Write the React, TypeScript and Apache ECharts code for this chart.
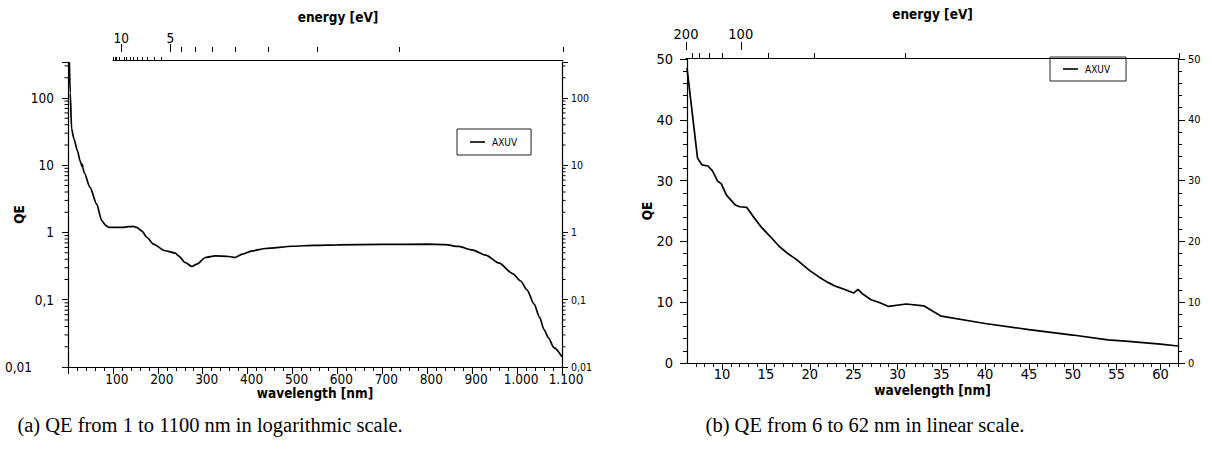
import React, { useEffect, useRef } from "react";
import * as echarts from "echarts";

// ---------- data ----------
const leftWavelength = [3, 5, 8, 13, 21, 27, 29, 31, 32, 33, 36, 49, 64, 75, 84, 91, 100, 120, 135, 145, 153, 164, 176, 190, 216, 239, 246, 261, 276, 287, 306, 328, 358, 372, 388, 410, 440, 500, 550, 600, 700, 800, 840, 870, 900, 930, 960, 990, 1008, 1022, 1038, 1050, 1060, 1070, 1082, 1100];
const leftQE = [340, 120, 35, 25, 16.4, 11.6, 10.6, 9.6, 10.4, 9.2, 7.8, 4.7, 2.64, 1.5, 1.28, 1.19, 1.19, 1.19, 1.22, 1.23, 1.19, 1.06, 0.843, 0.672, 0.535, 0.494, 0.45, 0.358, 0.312, 0.339, 0.425, 0.45, 0.44, 0.425, 0.477, 0.534, 0.578, 0.625, 0.645, 0.655, 0.665, 0.67, 0.66, 0.62, 0.55, 0.46, 0.35, 0.245, 0.19, 0.14, 0.086, 0.055, 0.036, 0.027, 0.0194, 0.0142];

const rightWavelength = [6, 7.2, 7.7, 8.4, 8.9, 9.5, 9.9, 10.5, 11.5, 12, 12.8, 13.5, 14.5, 15.5, 16.5, 17.5, 18.5, 20, 21, 22, 23, 24, 25, 25.5, 26, 27, 28, 29, 31, 33, 35, 40, 45, 50, 54, 56, 60, 62];
const rightQE = [48.5, 33.7, 32.6, 32.4, 31.6, 29.9, 29.5, 27.6, 26, 25.7, 25.6, 24.2, 22.3, 20.8, 19.2, 18, 17, 15.2, 14.2, 13.3, 12.6, 12.1, 11.5, 12.1, 11.4, 10.4, 9.9, 9.3, 9.7, 9.4, 7.7, 6.5, 5.5, 4.6, 3.8, 3.6, 3.1, 2.8];

// tick lists
const leftLogMinorTicks = [0.02, 0.03, 0.04, 0.05, 0.06, 0.07, 0.08, 0.09, 0.2, 0.3, 0.4, 0.5, 0.6, 0.7, 0.8, 0.9, 2, 3, 4, 5, 6, 7, 8, 9, 20, 30, 40, 50, 60, 70, 80, 90, 200, 300];
const leftEnergyMajor = [10, 5];
const leftEnergyMid = [4.5, 4, 3.5, 3, 2.5, 2, 1.5, 1];
const leftEnergyMinor = [12, 11.5, 11, 10.5, 9.5, 9, 8.5, 8, 7.5, 7, 6.5, 6, 5.5];
const rightEnergyMajor = [200, 100];
const rightEnergyMinor = [180, 160, 140, 120, 80, 60, 40, 20];
const rightWlMajor = [10, 15, 20, 25, 30, 35, 40, 45, 50, 55, 60];
const rightWlMinor = [7, 8, 9, 11, 12, 13, 14, 16, 17, 18, 19, 21, 22, 23, 24, 26, 27, 28, 29, 31, 32, 33, 34, 36, 37, 38, 39, 41, 42, 43, 44, 46, 47, 48, 49, 51, 52, 53, 54, 56, 57, 58, 59, 61, 62];

const HC = 1240; // eV*nm
const eToL = (e: number) => HC / e;

const FONT = "'DejaVu Sans Condensed', 'DejaVu Sans', sans-serif";
const BLACK = "#000";

function thousands(v: number) {
  if (v === 0) return "";
  const s = v >= 1000 ? Math.floor(v / 1000) + "." + String(v % 1000).padStart(3, "0") : String(v);
  return "{b|" + s + "}";
}
function logText(v: number) {
  const lg = Math.log10(v);
  if (Math.abs(lg - Math.round(lg)) > 1e-6) return "";
  return String(Number(v.toPrecision(3))).replace(".", ",");
}
function logLabelLeft(v: number) {
  const s = logText(v);
  if (!s) return "";
  return v < 0.05 ? "{s|" + s + "}" : s;
}

export default function App() {
  const ref = useRef<HTMLDivElement>(null);
  useEffect(() => {
    if (!ref.current) return;
    const chart = echarts.init(ref.current, undefined, { renderer: "svg" });
    const axisLine = { show: true, lineStyle: { color: BLACK, width: 1.2 } };
    const tickLine = { color: BLACK, width: 1 };
    const nameStyle = { fontFamily: FONT, fontWeight: "bold" as const, fontSize: 13.5, color: BLACK };
    const gridBase = { containLabel: false, outerBoundsMode: "none" };

    const option: any = {
      animation: false,
      textStyle: { fontFamily: FONT, color: BLACK },
      grid: [
        { ...gridBase, left: 68, top: 62, width: 494, height: 305 },
        { ...gridBase, left: 113, top: 52, width: 450, height: 8 },
        { ...gridBase, left: 687, top: 59, width: 491, height: 304 },
        { ...gridBase, left: 686, top: 50, width: 493, height: 8 },
      ],
      xAxis: [
        {
          gridIndex: 0, type: "value", position: "bottom", min: 0, max: 1100, interval: 100,
          axisLine, axisTick: { length: 7, lineStyle: tickLine },
          minorTick: { show: true, splitNumber: 5, length: 4, lineStyle: tickLine },
          axisLabel: {
            formatter: thousands, fontSize: 13.5, margin: 5, color: BLACK, fontFamily: FONT, lineHeight: 13,
            rich: { b: { fontSize: 13.5, fontFamily: FONT, color: BLACK, lineHeight: 13, padding: [0, 0, 0, 8] } },
          },
          splitLine: { show: false },
          name: "wavelength [nm]", nameLocation: "middle", nameGap: 19, nameMoveOverlap: false, nameTextStyle: nameStyle,
        },
        {
          gridIndex: 1, type: "value", position: "top", min: eToL(12), max: eToL(1),
          axisLine, axisTick: { length: 3, lineStyle: tickLine, customValues: leftEnergyMinor.map(eToL) },
          axisLabel: { show: false }, splitLine: { show: false },
        },
        {
          gridIndex: 1, type: "value", position: "top", min: eToL(12), max: eToL(1),
          axisLine: { show: false }, axisTick: { length: 5, lineStyle: tickLine, customValues: leftEnergyMid.map(eToL) },
          axisLabel: { show: false }, splitLine: { show: false },
        },
        {
          gridIndex: 1, type: "value", position: "top", min: eToL(12), max: eToL(1),
          axisLine: { show: false }, axisTick: { length: 8, lineStyle: tickLine, customValues: leftEnergyMajor.map(eToL) },
          axisLabel: {
            customValues: leftEnergyMajor.map(eToL), formatter: (v: number) => String(Math.round(HC / v)),
            fontSize: 13.5, margin: 7, color: BLACK, fontFamily: FONT,
          },
          splitLine: { show: false },
          name: "energy [eV]", nameLocation: "middle", nameGap: 28, nameMoveOverlap: false, nameTextStyle: nameStyle,
        },
        {
          gridIndex: 2, type: "value", position: "bottom", min: 6, max: 62,
          axisLine, axisTick: { length: 7, lineStyle: tickLine, customValues: rightWlMajor },
          axisLabel: { customValues: rightWlMajor, fontSize: 14.5, margin: 4, color: BLACK, fontFamily: FONT, lineHeight: 14 },
          splitLine: { show: false },
          name: "wavelength [nm]", nameLocation: "middle", nameGap: 20, nameMoveOverlap: false, nameTextStyle: nameStyle,
        },
        {
          gridIndex: 2, type: "value", position: "bottom", min: 6, max: 62,
          axisLine: { show: false }, axisTick: { length: 4, lineStyle: tickLine, customValues: rightWlMinor },
          axisLabel: { show: false }, splitLine: { show: false },
        },
        {
          gridIndex: 3, type: "value", position: "top", min: eToL(200), max: eToL(20),
          axisLine, axisTick: { length: 5, lineStyle: tickLine, customValues: rightEnergyMinor.map(eToL) },
          axisLabel: { show: false }, splitLine: { show: false },
        },
        {
          gridIndex: 3, type: "value", position: "top", min: eToL(200), max: eToL(20),
          axisLine: { show: false }, axisTick: { length: 8, lineStyle: tickLine, customValues: rightEnergyMajor.map(eToL) },
          axisLabel: {
            customValues: rightEnergyMajor.map(eToL), formatter: (v: number) => String(Math.round(HC / v)),
            fontSize: 14.5, margin: 9, color: BLACK, fontFamily: FONT,
          },
          splitLine: { show: false },
          name: "energy [eV]", nameLocation: "middle", nameGap: 29, nameMoveOverlap: false, nameTextStyle: nameStyle,
        },
      ],
      yAxis: [
        {
          gridIndex: 0, type: "log", logBase: 10, position: "left", min: 0.01, max: 343,
          axisLine, axisTick: { length: 6, lineStyle: tickLine },
          axisLabel: {
            formatter: logLabelLeft, fontSize: 13.5, margin: 14, color: BLACK, fontFamily: FONT,
            rich: { s: { fontSize: 13.5, fontFamily: FONT, color: BLACK, padding: [0, 22, 0, 0] } },
          },
          splitLine: { show: false },
          name: "QE", nameLocation: "middle", nameGap: 42, nameMoveOverlap: false, nameTextStyle: nameStyle,
        },
        {
          gridIndex: 0, type: "log", logBase: 10, position: "right", min: 0.01, max: 343,
          axisLine, axisTick: { length: 6, lineStyle: tickLine },
          axisLabel: { formatter: logText, fontSize: 10.5, margin: 9, color: BLACK, fontFamily: FONT, lineHeight: 10 },
          splitLine: { show: false },
        },
        { gridIndex: 1, type: "value", show: false, min: 0, max: 1 },
        {
          gridIndex: 2, type: "value", position: "left", min: 0, max: 50, interval: 10,
          axisLine, axisTick: { length: 7, lineStyle: tickLine },
          minorTick: { show: true, splitNumber: 5, length: 4, lineStyle: tickLine },
          axisLabel: { fontSize: 14.5, margin: 14, color: BLACK, fontFamily: FONT },
          splitLine: { show: false },
          name: "QE", nameLocation: "middle", nameGap: 33, nameMoveOverlap: false, nameTextStyle: nameStyle,
        },
        {
          gridIndex: 2, type: "value", position: "right", min: 0, max: 50, interval: 10,
          axisLine, axisTick: { length: 7, lineStyle: tickLine },
          minorTick: { show: true, splitNumber: 5, length: 4, lineStyle: tickLine },
          axisLabel: { fontSize: 11, margin: 10, color: BLACK, fontFamily: FONT },
          splitLine: { show: false },
        },
        { gridIndex: 3, type: "value", show: false, min: 0, max: 1 },
      ],
      legend: [
        {
          data: ["AXUV"], left: 457, top: 129, icon: "rect", itemWidth: 15, itemHeight: 1.6, itemGap: 0,
          padding: [7, 14, 7, 13], borderColor: "#222", borderWidth: 1, selectedMode: false,
          itemStyle: { color: BLACK }, textStyle: { fontSize: 10, fontFamily: FONT, color: BLACK, padding: [0, 0, 0, 2], lineHeight: 12 },
        },
        {
          data: ["AXUV"], left: 1050, top: 57, icon: "rect", itemWidth: 15, itemHeight: 1.6, itemGap: 0,
          padding: [6, 16, 6, 13], borderColor: "#222", borderWidth: 1, selectedMode: false,
          itemStyle: { color: BLACK }, textStyle: { fontSize: 10, fontFamily: FONT, color: BLACK, padding: [0, 0, 0, 2], lineHeight: 12 },
        },
      ],
      series: [
        {
          name: "AXUV", type: "line", xAxisIndex: 0, yAxisIndex: 0,
          data: leftWavelength.map((w, i) => [w, leftQE[i]]),
          symbol: "none", smooth: 0.25, smoothMonotone: "x",
          lineStyle: { color: BLACK, width: 1.7 }, itemStyle: { color: BLACK },
        },
        {
          type: "custom", xAxisIndex: 0, yAxisIndex: 0, silent: true,
          data: leftLogMinorTicks.map((v) => [0, v]),
          encode: { x: 0, y: 1 },
          renderItem: (_p: any, api: any) => {
            const v = api.value(1);
            const l = api.coord([0, v]);
            const r = api.coord([1100, v]);
            return {
              type: "group",
              children: [
                { type: "line", shape: { x1: l[0] - 3.5, y1: l[1], x2: l[0], y2: l[1] }, style: { stroke: BLACK, lineWidth: 1 } },
                { type: "line", shape: { x1: r[0], y1: r[1], x2: r[0] + 3.5, y2: r[1] }, style: { stroke: BLACK, lineWidth: 1 } },
              ],
            };
          },
        },
        {
          name: "AXUV", type: "line", xAxisIndex: 4, yAxisIndex: 3,
          data: rightWavelength.map((w, i) => [w, rightQE[i]]),
          symbol: "none",
          lineStyle: { color: BLACK, width: 1.7 }, itemStyle: { color: BLACK },
        },
      ],
      graphic: [
        {
          type: "text", x: 210, y: 425,
          style: {
            text: "(a) QE from 1 to 1100 nm in logarithmic scale.", font: "20.5px 'Liberation Serif', serif",
            fill: BLACK, textAlign: "center", textVerticalAlign: "middle", align: "center", verticalAlign: "middle",
          },
        },
        {
          type: "text", x: 865, y: 425,
          style: {
            text: "(b) QE from 6 to 62 nm in linear scale.", font: "20.5px 'Liberation Serif', serif",
            fill: BLACK, textAlign: "center", textVerticalAlign: "middle", align: "center", verticalAlign: "middle",
          },
        },
      ],
    };
    chart.setOption(option);
    return () => chart.dispose();
  }, []);
  return <div ref={ref} style={{ position: "absolute", left: 0, top: 0, width: 1212, height: 456, background: "#fff" }} />;
}
